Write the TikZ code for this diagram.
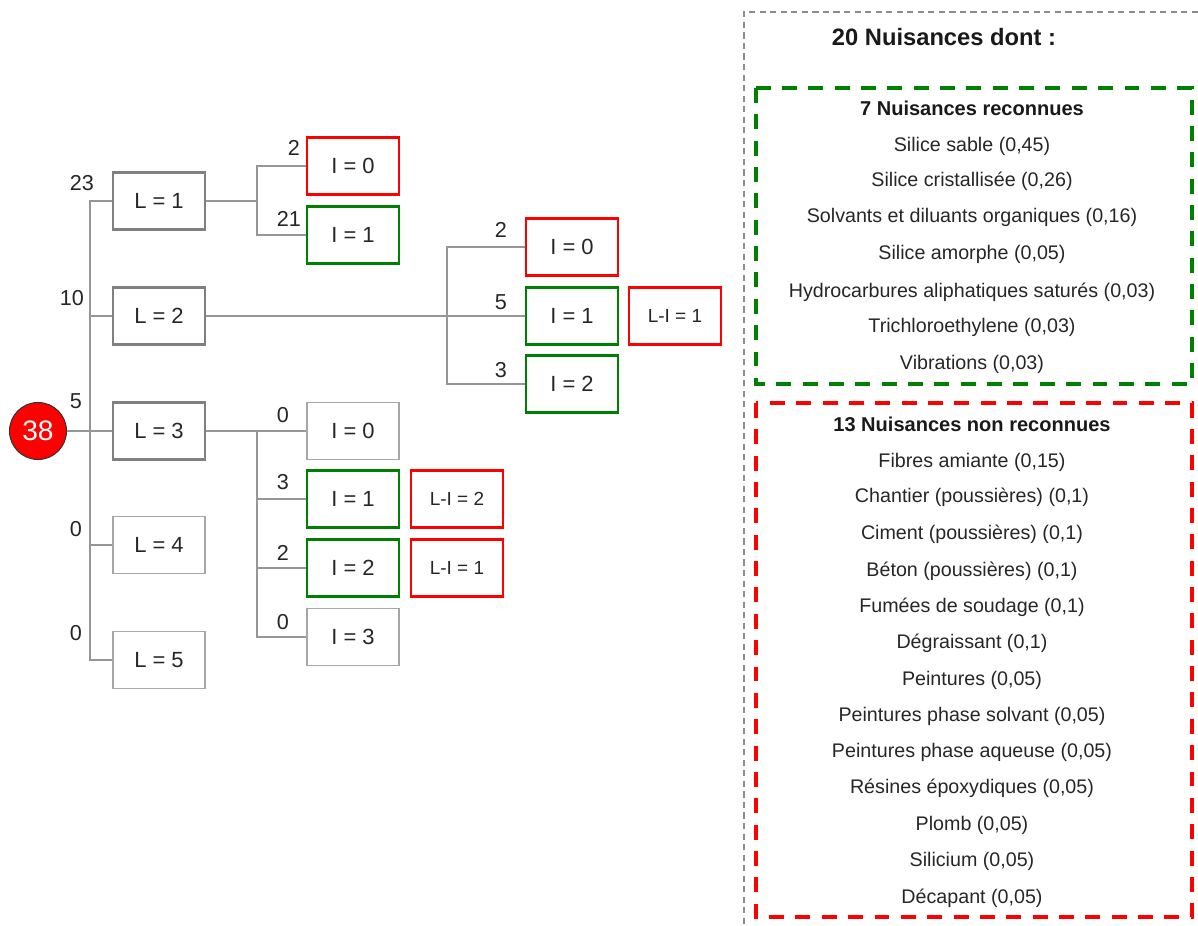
\documentclass[tikz,border=0pt]{standalone}
\usepackage{fontspec}
\setmainfont{Liberation Sans}
\usepackage{tikz}
\usetikzlibrary{positioning}

\begin{document}
\begin{tikzpicture}[
  x=0.02cm, y=-0.02cm,
  conn/.style={draw=lgray, line width=0.8pt},
  box/.style={draw, minimum width=1.84cm, minimum height=1.15cm, inner sep=0pt, text=black!85, font=\fontsize{12.5}{14}\selectfont},
  lbox/.style={box, draw=black!50, line width=1.6pt},
  thinbox/.style={box, draw=black!35, line width=0.8pt},
  okbox/.style={box, draw=okgreen, line width=1.6pt},
  nokbox/.style={box, draw=nokred, line width=1.6pt},
  diffbox/.style={nokbox, font=\fontsize{10.8}{13}\selectfont},
  num/.style={inner sep=0pt, text=black!85, font=\fontsize{12.3}{14}\selectfont},
  item/.style={inner sep=0pt, text=black!85, font=\fontsize{11.2}{13}\selectfont},
  head/.style={inner sep=0pt, text=black!90, font=\fontsize{11.4}{13}\selectfont\bfseries},
  grpok/.style={draw=okgreen, line width=2.2pt, dash pattern=on 8.5pt off 6.5pt},
  grpnok/.style={draw=nokred, line width=2.2pt, dash pattern=on 8.5pt off 6.5pt},
  outer/.style={draw=black!45, line width=0.6pt, dash pattern=on 3.5pt off 2.5pt},
]
\definecolor{okgreen}{RGB}{0,128,0}
\definecolor{nokred}{RGB}{255,0,0}
\definecolor{lgray}{RGB}{150,150,150}
\useasboundingbox (0,0) rectangle (1198,926);
% root: total count
\node[circle, fill=nokred, draw=black!80, line width=0.6pt, minimum size=1.14cm, inner sep=0pt,
      text=white, font=\fontsize{16}{18}\selectfont] (root) at (38,431) {38};
% first level: L
\node[lbox] (L1) at (159,201) {L = 1};
\node[lbox] (L2) at (159,316) {L = 2};
\node[lbox] (L3) at (159,431) {L = 3};
\node[thinbox] (L4) at (159,545) {L = 4};
\node[thinbox] (L5) at (159,660) {L = 5};
\coordinate (j0) at (90,431);
\draw[conn] (root) -- (L3);
\draw[conn] (L1.west) -| (j0);
\draw[conn] (L2.west) -| (j0);
\draw[conn] (L4.west) -| (j0);
\draw[conn] (L5.west) -| (j0);
\node[num] (nL1) at (82,183) {23};
\node[num] (nL2) at (72,298) {10};
\node[num] (nL3) at (76,401) {5};
\node[num] (nL4) at (76,529) {0};
\node[num] (nL5) at (76,633) {0};
% second level under L = 1
\node[nokbox] (A0) at (353,166) {I = 0};
\node[okbox] (A1) at (353,235) {I = 1};
\coordinate (j1) at (257,201);
\draw[conn] (L1.east) -- (j1);
\draw[conn] (A0.west) -| (j1);
\draw[conn] (A1.west) -| (j1);
\node[num] (nA0) at (294,148) {2};
\node[num] (nA1) at (289,219) {21};
% second level under L = 2
\node[nokbox] (B0) at (572,247) {I = 0};
\node[okbox] (B1) at (572,316) {I = 1};
\node[okbox] (B2) at (572,384) {I = 2};
\node[diffbox] (D1) at (675,316) {L-I = 1};
\coordinate (j2) at (447,316);
\draw[conn] (L2.east) -- (B1.west);
\draw[conn] (B0.west) -| (j2);
\draw[conn] (B2.west) -| (j2);
\node[num] (nB0) at (501,230) {2};
\node[num] (nB1) at (501,302) {5};
\node[num] (nB2) at (501,370) {3};
% second level under L = 3
\node[thinbox] (C0) at (353,431) {I = 0};
\node[okbox] (C1) at (353,499) {I = 1};
\node[okbox] (C2) at (353,568) {I = 2};
\node[thinbox] (C3) at (353,637) {I = 3};
\node[diffbox] (D2) at (457,499) {L-I = 2};
\node[diffbox] (D3) at (457,568) {L-I = 1};
\coordinate (j3) at (257,431);
\draw[conn] (L3.east) -- (C0.west);
\draw[conn] (C1.west) -| (j3);
\draw[conn] (C2.west) -| (j3);
\draw[conn] (C3.west) -| (j3);
\node[num] (nC0) at (283,415) {0};
\node[num] (nC1) at (283,482) {3};
\node[num] (nC2) at (283,553) {2};
\node[num] (nC3) at (283,622) {0};
% right panel: the nuisances
\draw[outer] (1198,12) -- (744,12) -- (744,926);
\node[inner sep=0pt, text=black!90, font=\fontsize{13.5}{16}\selectfont\bfseries] (tot) at (944,37) {20 Nuisances dont :};
\draw[grpok] (756,88) rectangle (1192,384);
\node[head] (hok) at (972,108) {7 Nuisances reconnues};
\node[item] (k1) at (972,146) {Silice sable (0,45)};
\node[item] (k2) at (972,181) {Silice cristallisée (0,26)};
\node[item] (k3) at (972,217) {Solvants et diluants organiques (0,16)};
\node[item] (k4) at (972,254) {Silice amorphe (0,05)};
\node[item] (k5) at (972,292) {Hydrocarbures aliphatiques saturés (0,03)};
\node[item] (k6) at (972,327) {Trichloroethylene (0,03)};
\node[item] (k7) at (972,364) {Vibrations (0,03)};
\draw[grpnok] (756,403) rectangle (1192,917);
\node[head] (hnok) at (972,424) {13 Nuisances non reconnues};
\node[item] (u1) at (972,462) {Fibres amiante (0,15)};
\node[item] (u2) at (972,497) {Chantier (poussières) (0,1)};
\node[item] (u3) at (972,534) {Ciment (poussières) (0,1)};
\node[item] (u4) at (972,571) {Béton (poussières) (0,1)};
\node[item] (u5) at (972,607) {Fumées de soudage (0,1)};
\node[item] (u6) at (972,643) {Dégraissant (0,1)};
\node[item] (u7) at (972,680) {Peintures (0,05)};
\node[item] (u8) at (972,716) {Peintures phase solvant (0,05)};
\node[item] (u9) at (972,752) {Peintures phase aqueuse (0,05)};
\node[item] (u10) at (972,788) {Résines époxydiques (0,05)};
\node[item] (u11) at (972,825) {Plomb (0,05)};
\node[item] (u12) at (972,861) {Silicium (0,05)};
\node[item] (u13) at (972,898) {Décapant (0,05)};
\end{tikzpicture}
\end{document}
